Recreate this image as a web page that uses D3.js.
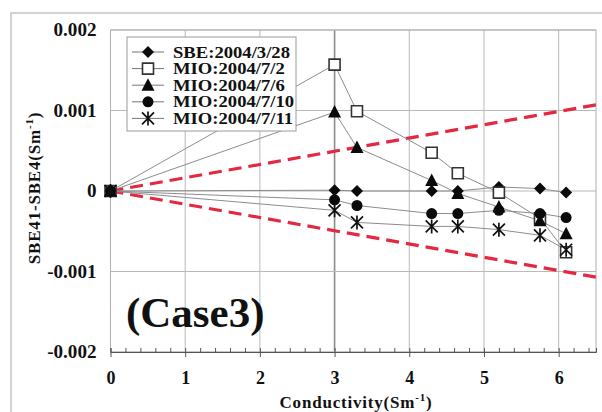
<!DOCTYPE html>
<html>
<head>
<meta charset="utf-8">
<script src="https://cdn.jsdelivr.net/npm/d3@7"></script>
<style>
  html, body { margin: 0; padding: 0; background: #fff; }
  svg { display: block; }
  text { font-family: "Liberation Serif", "Times New Roman", serif; font-weight: bold; fill: #111; }
</style>
</head>
<body>
<svg id="chart" width="602" height="412"></svg>
<script>
// Conductivity of each calibration step (S/m)
const conductivity = [0, 3.0, 3.3, 4.3, 4.65, 5.2, 5.75, 6.1];

// SBE41 - SBE4 differences (S/m) for each calibration date
const sbe0328 = [0, 0.00001, 0.0, 0.0, 0.0, 0.00005, 0.00003, -0.00002];
const mio0702 = [0, 0.00157, 0.00099, 0.000475, 0.00022, -0.00002, -0.00034, -0.00076];
const mio0706 = [0, 0.00098, 0.00054, 0.00013, -0.00003, -0.0002, -0.00037, -0.00053];
const mio0710 = [0, -0.00011, -0.00018, -0.00028, -0.00028, -0.00024, -0.00028, -0.00033];
const mio0711 = [0, -0.00024, -0.00039, -0.00044, -0.00044, -0.00048, -0.00055, -0.00073];

const seriesNames = ["SBE:2004/3/28", "MIO:2004/7/2", "MIO:2004/7/6", "MIO:2004/7/10", "MIO:2004/7/11"];
const seriesValues = [sbe0328, mio0702, mio0706, mio0710, mio0711];
const seriesMarkers = ["diamond", "square", "triangle", "circle", "asterisk"];

// Tolerance envelope (dashed red) as [conductivity, difference] pairs
const upperBound = [[0, 0], [6.5, 0.00107]];
const lowerBound = [[0, 0], [6.5, -0.00107]];

// Axis ticks
const xTicks = [0, 1, 2, 3, 4, 5, 6];
const yTicks = [0.002, 0.001, 0, -0.001, -0.002];
const yTickLabels = ["0.002", "0.001", "0", "-0.001", "-0.002"];

const svg = d3.select("#chart");

const x = d3.scaleLinear().domain([0, 6.5]).range([110.5, 596]);
const y = d3.scaleLinear().domain([-0.002, 0.002]).range([352, 30]);

// Outer figure frame
svg.append("rect")
  .attr("x", 11).attr("y", 13).attr("width", 640).attr("height", 440)
  .attr("fill", "none").attr("stroke", "#c4c4c4").attr("stroke-width", 1.5);

// Grid
const grid = svg.append("g");
grid.selectAll("line.v").data(xTicks.filter(d => d > 0)).join("line")
  .attr("x1", d => x(d)).attr("x2", d => x(d))
  .attr("y1", y(0.002)).attr("y2", y(-0.002))
  .attr("stroke", d => d === 3 ? "#8a8a8a" : "#b9b9b9")
  .attr("stroke-width", d => d === 3 ? 1.6 : 1);
grid.selectAll("line.h").data(yTicks).join("line")
  .attr("x1", x(0)).attr("x2", x(6.5))
  .attr("y1", d => y(d)).attr("y2", d => y(d))
  .attr("stroke", "#b9b9b9").attr("stroke-width", 1);
// Plot frame
svg.append("rect")
  .attr("x", x(0)).attr("y", y(0.002))
  .attr("width", x(6.5) - x(0)).attr("height", y(-0.002) - y(0.002))
  .attr("fill", "none").attr("stroke", "#b0b0b0").attr("stroke-width", 1);

// Bottom axis: minor ticks pointing up, major ticks pointing down
const minorTicks = d3.range(0, 6.5001, 0.2).map(v => +v.toFixed(1));
svg.append("g")
  .attr("transform", `translate(0,${y(-0.002)})`)
  .call(d3.axisBottom(x).tickValues(minorTicks).tickSize(-4).tickFormat(""))
  .call(g => g.select(".domain").attr("stroke", "#555"))
  .call(g => g.selectAll(".tick line").attr("stroke", "#555"));
svg.append("g")
  .attr("transform", `translate(0,${y(-0.002)})`)
  .call(d3.axisBottom(x).tickValues(xTicks).tickSize(5).tickPadding(14).tickFormat(d3.format("d")))
  .call(g => g.select(".domain").remove())
  .call(g => g.selectAll(".tick line").attr("stroke", "#555"))
  .call(g => g.selectAll(".tick text")
    .attr("font-family", "Liberation Serif").attr("font-weight", "bold")
    .attr("font-size", 18).attr("fill", "#111"));

// Left axis labels (slightly widened bold serif)
const yAxisG = svg.append("g")
  .attr("transform", `translate(${x(0)},0)`)
  .call(d3.axisLeft(y).tickValues(yTicks).tickSize(0).tickPadding(14)
    .tickFormat((d, i) => yTickLabels[i]))
  .call(g => g.select(".domain").remove())
  .call(g => g.selectAll(".tick text")
    .attr("font-family", "Liberation Serif").attr("font-weight", "bold")
    .attr("font-size", 18).attr("fill", "#111"));
{
  const ref = yAxisG.select(".tick text").node();
  const k = Math.max(1, 43 / ref.getComputedTextLength());
  yAxisG.selectAll(".tick text")
    .attr("x", 0)
    .attr("transform", `translate(-14,0) scale(${k},1)`);
}

// Axis titles
const xt = svg.append("text").attr("x", 356).attr("y", 408)
  .attr("text-anchor", "middle").attr("font-size", 17).attr("letter-spacing", 0.8);
xt.append("tspan").text("Conductivity(Sm");
xt.append("tspan").attr("font-size", 11).attr("dy", -7).text("-1");
xt.append("tspan").attr("dy", 7).text(")");

const yt = svg.append("text")
  .attr("transform", "translate(40,188) rotate(-90)")
  .attr("text-anchor", "middle").attr("font-size", 17).attr("letter-spacing", 0.8);
yt.append("tspan").text("SBE41-SBE4(Sm");
yt.append("tspan").attr("font-size", 11).attr("dy", -7).text("-1");
yt.append("tspan").attr("dy", 7).text(")");

// Tolerance envelope
const line = d3.line().x(d => x(d[0])).y(d => y(d[1]));
[upperBound, lowerBound].forEach(b => {
  svg.append("path").datum(b).attr("d", line)
    .attr("fill", "none").attr("stroke", "#e5283f").attr("stroke-width", 3.2)
    .attr("stroke-dasharray", "13,7");
});

// Marker shapes
function markerPath(type) {
  switch (type) {
    case "diamond": return "M0,-6L6,0L0,6L-6,0Z";
    case "square": return "M-5.5,-5.5H5.5V5.5H-5.5Z";
    case "triangle": return "M0,-7L6.5,5.5H-6.5Z";
    case "circle": return d3.symbol(d3.symbolCircle, 95)();
    case "asterisk": return "M0,-7V7M-6,-6L6,6M-6,6L6,-6";
  }
}
function drawMarker(g, type) {
  const p = g.append("path").attr("d", markerPath(type));
  if (type === "square") {
    p.attr("fill", "#fff").attr("stroke", "#333").attr("stroke-width", 1.6);
  } else if (type === "asterisk") {
    p.attr("fill", "none").attr("stroke", "#111").attr("stroke-width", 1.7);
  } else {
    p.attr("fill", "#0a0a0a");
  }
}

// Series lines and markers
const seriesLine = d3.line().x(d => x(d[0])).y(d => y(d[1]));
seriesValues.forEach((vals, i) => {
  const pts = conductivity.map((c, j) => [c, vals[j]]);
  svg.append("path").datum(pts).attr("d", seriesLine)
    .attr("fill", "none").attr("stroke", "#8c8c8c").attr("stroke-width", 1);
});
seriesValues.forEach((vals, i) => {
  conductivity.forEach((c, j) => {
    const g = svg.append("g").attr("transform", `translate(${x(c)},${y(vals[j])})`);
    drawMarker(g, seriesMarkers[i]);
  });
});

// Legend
const legend = svg.append("g");
legend.append("rect")
  .attr("x", 127).attr("y", 37).attr("width", 169).attr("height", 94)
  .attr("fill", "#fff").attr("stroke", "#9a9a9a").attr("stroke-width", 1);
const legendTexts = [];
seriesNames.forEach((name, i) => {
  const cy = 52 + i * 16.6;
  legend.append("line").attr("x1", 132).attr("x2", 164).attr("y1", cy).attr("y2", cy)
    .attr("stroke", "#777").attr("stroke-width", 1);
  const g = legend.append("g").attr("transform", `translate(148,${cy})`);
  drawMarker(g, seriesMarkers[i]);
  legendTexts.push(legend.append("text").datum(cy)
    .attr("font-size", 16).text(name));
});
{
  // widen the legend labels so the first entry spans the box
  const k = Math.max(1, 117 / legendTexts[0].node().getComputedTextLength());
  legendTexts.forEach(t => t.attr("transform", d => `translate(173,${d + 5.5}) scale(${k},1)`));
}

// Case label
svg.append("text").attr("x", 126).attr("y", 327).attr("font-size", 43).text("(Case3)");
</script>
</body>
</html>
